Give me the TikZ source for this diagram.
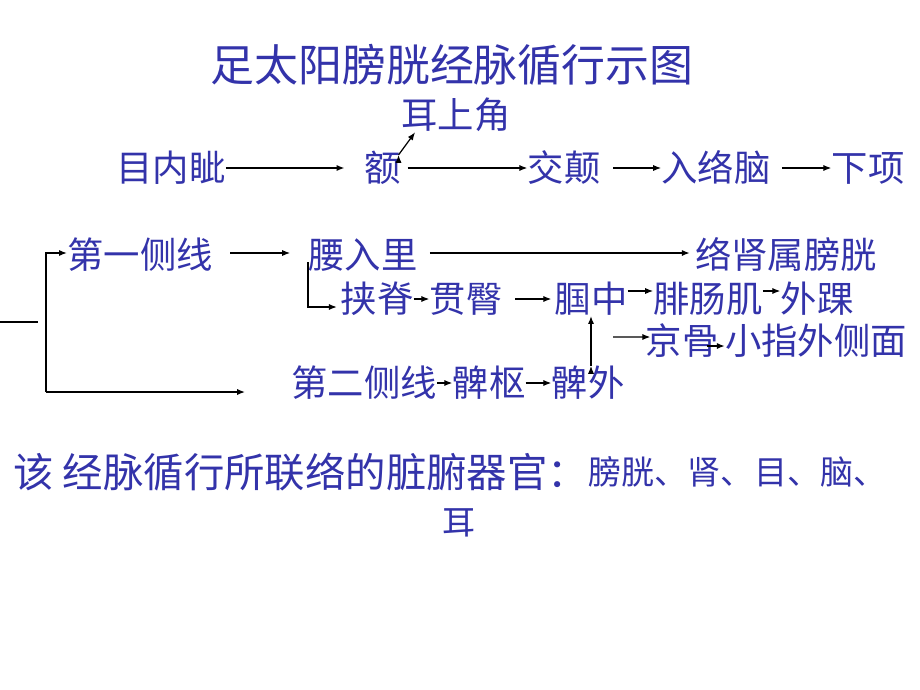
\documentclass[tikz,border=0pt]{standalone}
\usepackage{fontspec}
\setmainfont{Noto Sans CJK SC}
\usepackage{xcolor}
\usetikzlibrary{positioning,calc,arrows.meta}
\definecolor{mblue}{RGB}{51,51,170}

\begin{document}
\begin{tikzpicture}[x=0.02cm, y=-0.02cm, part/.style={text=mblue, inner sep=0pt, font=\fontsize{20.7}{24}\selectfont}, small/.style={text=mblue, inner sep=0pt, font=\fontsize{18.8}{22}\selectfont}, msg/.style={-{Latex[length=4.5pt,width=3.5pt]}, line width=0.7pt}]
    \useasboundingbox (0,0) rectangle (920,690);

    \node[text=mblue, inner sep=0pt, font=\fontsize{25}{30}\selectfont] (title) at (452,65) {足太阳膀胱经脉循行示图};

    \node[part] (mnz) at (171,168) {目内眦};
    \node[part] (e) at (383,168) {额};
    \node[part] (esj) at (456,115) {耳上角};
    \node[part] (jd) at (564,168) {交颠};
    \node[part] (rln) at (716,168) {入络脑};
    \node[part] (xx) at (868,168) {下项};

    \path[draw, msg]
        (mnz.east) edge[shorten >=0.4cm] (e.west)
        (e.east) edge[shorten <=0.12cm] (jd.west)
        (jd.east) edge[shorten <=0.25cm] (rln.west)
        (rln.east) edge[shorten <=0.22cm] (xx.west)
        ([xshift=-0.06cm,yshift=-0.08cm]e.north east) edge ([xshift=0.28cm]esj.south west)
        ;

    \node[part] (yx1) at (140,255) {第一侧线};
    \node[part] (ylr) at (363,255) {腰入里};
    \node[part] (lsspg) at (786,255) {络肾属膀胱};
    \node[part] (jj) at (377,299) {挟脊};
    \node[part] (gt) at (466,299) {贯臀};
    \node[part] (gz) at (591,299) {腘中};
    \node[part] (fcj) at (708,299) {腓肠肌};
    \node[part] (whl) at (817,299) {外踝};
    \node[part] (jg) at (682,341) {京骨};
    \node[part] (xzwcm) at (816,341) {小指外侧面};
    \node[part] (yx2) at (364,383) {第二侧线};
    \node[part] (bs) at (489,383) {髀枢};
    \node[part] (bw) at (588,383) {髀外};

    \coordinate (in) at (0,322);
    \coordinate (inend) at (38,322);
    \coordinate (brbot) at (46,392);
    \coordinate (yx2in) at (245,392);
    \coordinate (jgin) at (613,337);

    \draw[line width=0.7pt] (in) -- (inend);
    \draw[msg] (brbot) |- ([yshift=0.04cm]yx1.west);
    \draw[msg] (brbot) -- (yx2in);

    \path[draw, msg]
        ([yshift=0.04cm]yx1.east) edge[shorten <=0.34cm, shorten >=0.36cm] ([yshift=0.04cm]ylr.west)
        ([yshift=0.04cm]ylr.east) edge[shorten <=0.24cm, shorten >=0.1cm] ([yshift=0.04cm]lsspg.west)
        (jj.east) edge (gt.west)
        (gt.east) edge[shorten <=0.25cm, shorten >=0.06cm] (gz.west)
        ([yshift=0.16cm]gz.east) edge ([yshift=0.16cm]fcj.west)
        ([yshift=0.16cm]fcj.east) edge ([yshift=0.16cm]whl.west)
        (jgin) edge ([xshift=0.1cm,yshift=0.08cm]jg.west)
        ([xshift=-0.24cm,yshift=-0.1cm]jg.east) edge ([yshift=-0.1cm]xzwcm.west)
        (yx2.east) edge (bs.west)
        (bs.east) edge (bw.west)
        (gz.south |- bw.north) edge (gz.south)
        ;
    \draw[msg] ([yshift=-0.14cm]ylr.west) |- ([xshift=-0.07cm,yshift=-0.16cm]jj.west);

    \node[text=mblue, inner sep=0pt, anchor=west, font=\fontsize{23}{28}\selectfont] (organs) at (13,472) {该 经脉循行所联络的脏腑器官：};
    \node[small, anchor=west] (olist) at (organs.east) {膀胱、肾、目、脑、};
    \node[small] (er) at (459,523) {耳};
\end{tikzpicture}
\end{document}
